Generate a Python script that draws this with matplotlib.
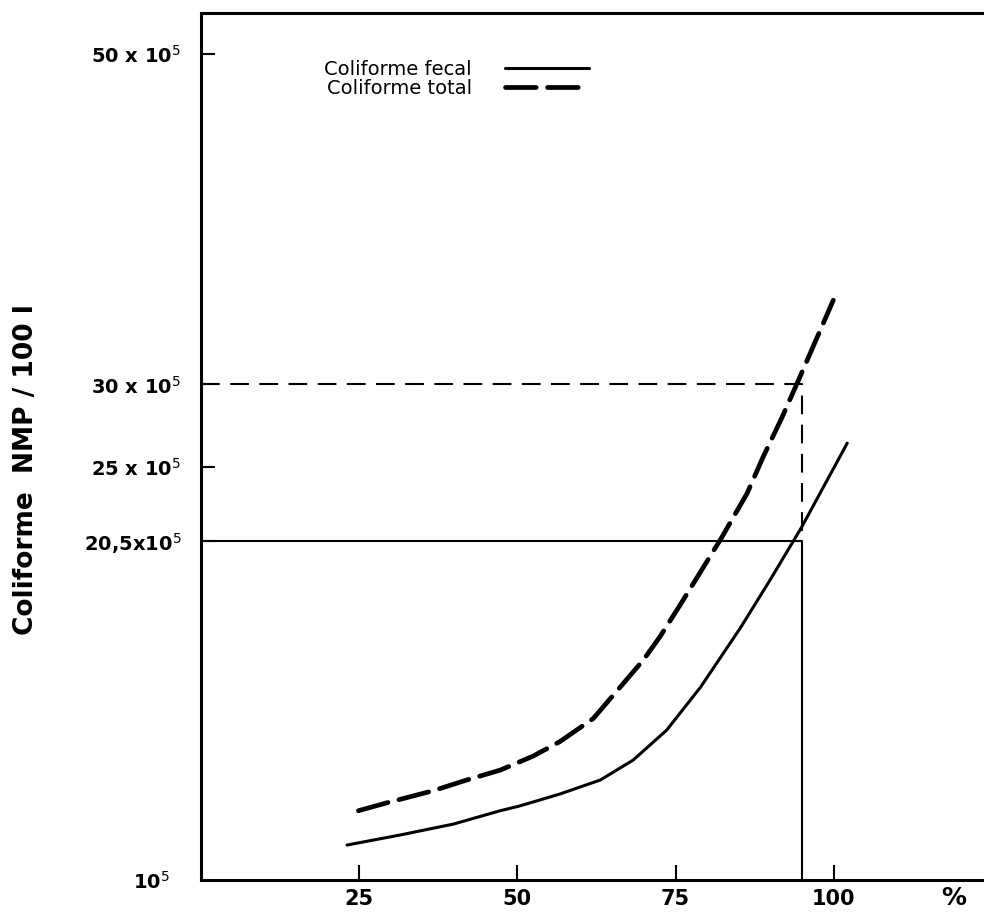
import numpy as np
import matplotlib
matplotlib.use("Agg")
import matplotlib.pyplot as plt

plt.rcParams['font.family'] = ['DejaVu Sans']
plt.rcParams['mathtext.fontset'] = 'dejavusans'

# --- Veriler (x: %, y: x10^5 NMP/100 l) ---
fecal_x = [23.1, 31.5, 39.9, 47.3, 50.3, 56.7, 63.1, 68.3, 73.6, 78.9, 85.2, 89.9, 94.9, 102.1]
fecal_y = [2.09, 2.70, 3.36, 4.17, 4.45, 5.18, 6.03, 7.24, 9.06, 11.64, 15.23, 18.14, 21.35, 26.44]

total_x = [24.9, 29.4, 36.7, 42.0, 47.3, 52.5, 56.7, 62.0, 66.2, 69.9, 72.5, 75.7,
           78.8, 82.3, 86.3, 88.8, 91.8, 94.6, 99.9]
total_y = [4.17, 4.65, 5.38, 6.03, 6.63, 7.48, 8.35, 9.76, 11.64, 13.3, 14.7, 16.63,
           18.56, 20.74, 23.41, 25.59, 28.0, 30.43, 35.1]

x_ticks = [25, 50, 75, 100]
y_ticks = [0, 20.5, 25, 30, 50]
y_ticklabels = [r'10$^5$', r'20,5x10$^5$', r'25 x 10$^5$', r'30 x 10$^5$', r'50 x 10$^5$']

perc = 95
fecal_perc = 20.5
total_perc = 30

# --- Grafik ---
fig = plt.figure(figsize=(9.84, 9.14), dpi=100)
ax = fig.add_axes([0.204, 0.0377, 0.796, 0.948])

ax.plot(fecal_x, fecal_y, color="black", linewidth=2.2, solid_capstyle="round",
        label="Coliforme fecal")
ax.plot(total_x, total_y, color="black", linewidth=3.4, dashes=[6.5, 2.4],
        dash_capstyle="round", label="Coliforme total")

# %95 okuma çizgileri
ax.plot([0, perc, perc], [total_perc, total_perc, fecal_perc], color="black",
        linewidth=1.5, dashes=[9, 5])
ax.plot([0, perc, perc], [fecal_perc, fecal_perc, 0], color="black", linewidth=1.5)

ax.set_xlim(0, 123.7)
ax.set_ylim(0, 52.5)

ax.set_xticks(x_ticks)
ax.set_xticklabels([str(t) for t in x_ticks], fontweight="bold")
ax.set_yticks(y_ticks)
ax.set_yticklabels(y_ticklabels, fontweight="bold")
ax.tick_params(axis="x", direction="in", length=11, width=1.5, pad=7, labelsize=15)
ax.tick_params(axis="y", direction="in", length=10, width=1.5, pad=14, labelsize=14)
ax.yaxis.get_major_ticks()[0].tick1line.set_visible(False)
ax.yaxis.get_major_ticks()[0].set_pad(22)

for s in ["left", "bottom", "top"]:
    ax.spines[s].set_linewidth(2.2)
ax.spines["right"].set_visible(False)

ax.text(119, -0.008, "%", transform=ax.get_xaxis_transform(), ha="center", va="top",
        fontsize=18, fontweight="bold")

ax.set_ylabel("Coliforme  NMP / 100 l", fontsize=19, fontweight="bold")
ax.yaxis.set_label_coords(-0.206, 0.473)

ax.legend(loc="upper left", bbox_to_anchor=(0.148, 0.955), markerfirst=False,
          frameon=False, fontsize=14, handlelength=4.3, handletextpad=1.7,
          labelspacing=0.0, borderaxespad=0)

fig.savefig("out.png", dpi=100)
